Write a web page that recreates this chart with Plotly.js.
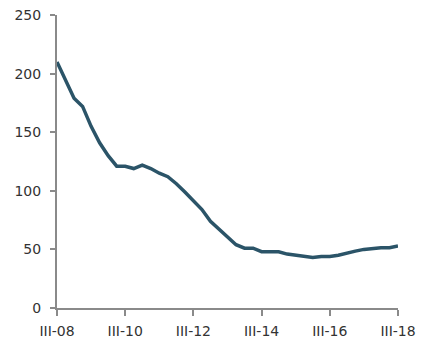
<!DOCTYPE html>
<html>
<head>
<meta charset="utf-8">
<script src="https://cdn.plot.ly/plotly-3.0.1.min.js"></script>
<style>html,body{margin:0;padding:0;background:#fff;overflow:hidden;}#chart{width:421px;height:351px;}</style>
</head>
<body>
<div id="chart"></div>
<script>
// Quarterly labels III-08 .. III-18 (41 quarters)
const quarters = [];
const romans = ["I","II","III","IV"];
for (let i = 0; i < 41; i++) {
  const q = (2 + i) % 4;
  const y = 8 + Math.floor((2 + i) / 4);
  quarters.push(romans[q] + "-" + String(y).padStart(2, "0"));
}

const values = [210, 195, 179, 172, 155, 141, 130, 121, 121, 119,
                122, 119, 115, 112, 106, 99, 92, 84, 74, 67,
                61, 54, 51, 51, 48, 48, 48, 46, 45, 44,
                43, 44, 44, 45, 47, 48.5, 50, 51, 51.5, 51.5, 53];

const tickLabels = ["III-08", "III-10", "III-12", "III-14", "III-16", "III-18"];
const yTicks = [0, 50, 100, 150, 200, 250];

const font = {family: "'DejaVu Sans', sans-serif", size: 14, color: "#333"};

Plotly.newPlot("chart", [{
  x: quarters,
  y: values,
  type: "scatter",
  mode: "lines",
  line: {color: "#2b5468", width: 3.5, shape: "linear"},
  hoverinfo: "skip"
}], {
  width: 421, height: 351,
  margin: {l: 57, r: 23, t: 15, b: 43},
  paper_bgcolor: "#fff", plot_bgcolor: "#fff",
  showlegend: false,
  font: font,
  xaxis: {
    type: "category",
    categoryorder: "array",
    categoryarray: quarters,
    range: [0, quarters.length - 1],
    tickvals: tickLabels,
    ticktext: tickLabels,
    automargin: false,
    showgrid: false, zeroline: false,
    showline: true, linecolor: "#8a8a8a", linewidth: 2,
    ticks: "outside", ticklen: 6, tickwidth: 2, tickcolor: "#8a8a8a",
    ticklabelstandoff: 3,
    tickfont: font
  },
  yaxis: {
    range: [0, 250],
    tickvals: yTicks,
    automargin: false,
    showgrid: false, zeroline: false,
    showline: true, linecolor: "#8a8a8a", linewidth: 2,
    ticks: "outside", ticklen: 5, tickwidth: 2, tickcolor: "#8a8a8a",
    ticklabelstandoff: 6,
    tickfont: font
  }
}, {staticPlot: true});
</script>
</body>
</html>
